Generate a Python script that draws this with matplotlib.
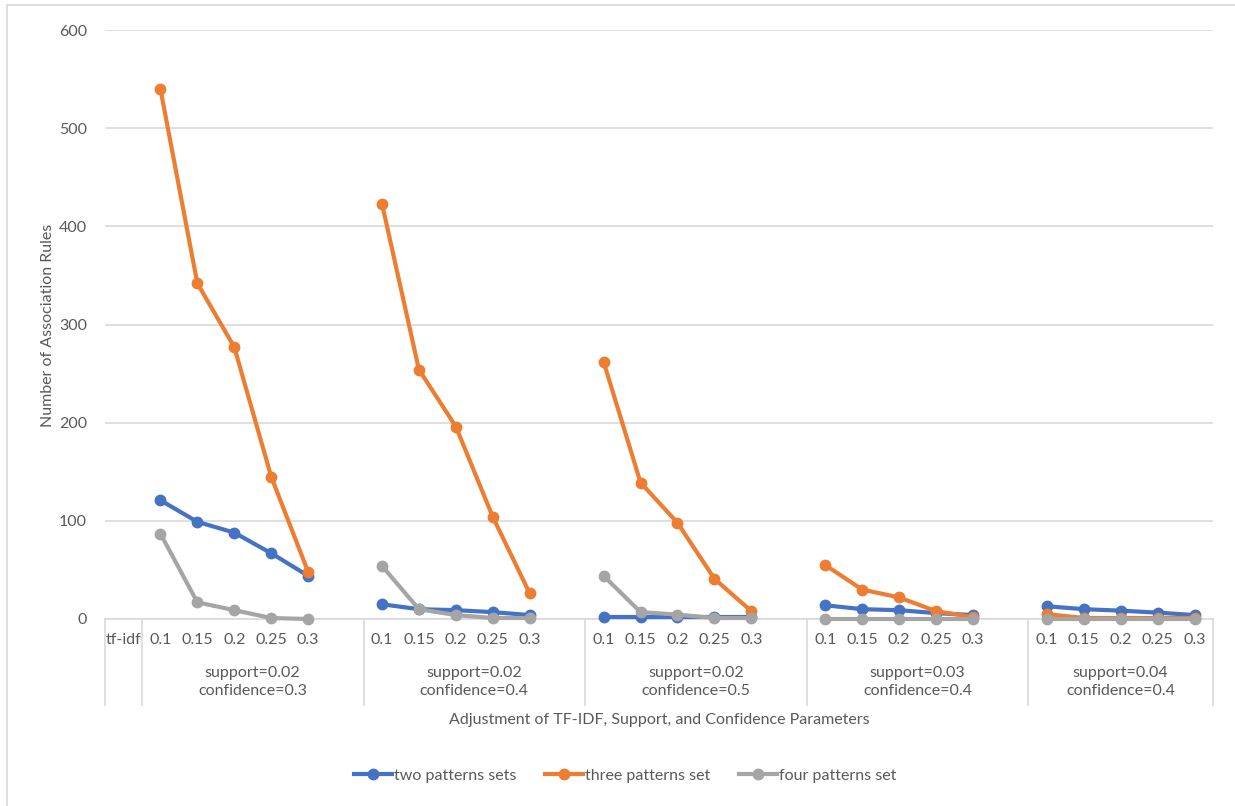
import matplotlib
matplotlib.use("Agg")
import matplotlib.pyplot as plt
from matplotlib.lines import Line2D

# ---- data ----
tfidf_labels = ["0.1", "0.15", "0.2", "0.25", "0.3"]
group_labels = ["support=0.02\nconfidence=0.3", "support=0.02\nconfidence=0.4",
                "support=0.02\nconfidence=0.5", "support=0.03\nconfidence=0.4",
                "support=0.04\nconfidence=0.4"]
two_patterns = [[121, 99, 88, 67, 44],
                [15, 10, 9, 7, 4],
                [2, 2, 2, 2, 2],
                [14, 10, 9, 6, 4],
                [13, 10, 8.5, 6.5, 4]]
three_patterns = [[540, 342, 277, 145, 48],
                  [423, 254, 196, 104, 26],
                  [262, 139, 98, 41, 8],
                  [55, 30, 22, 8, 2],
                  [5, 1, 1, 1, 1]]
four_patterns = [[87, 17, 9, 1, 0],
                 [54, 10, 4, 1, 1],
                 [44, 7, 4.5, 1, 1],
                 [0, 0, 0, 0, 0],
                 [0, 0, 0, 0, 0]]
series_names = ["two patterns sets", "three patterns set", "four patterns set"]
colors = ["#4472C4", "#ED7D31", "#A5A5A5"]

W, H = 1235, 806
fig = plt.figure(figsize=(W / 100, H / 100), dpi=100)
plt.rcParams['font.family'] = ['Lato', 'DejaVu Sans']
txt = "#595959"
fs = 11.5

x0, x1, ytop, ybot = 105, 1213, 30, 619
ax = fig.add_axes([x0 / W, 1 - ybot / H, (x1 - x0) / W, (ybot - ytop) / H])

ngroups = len(group_labels)
n = len(tfidf_labels)
def pos(g, i):
    return 1 + 6 * g + i

all_series = [two_patterns, three_patterns, four_patterns]
for s, data in enumerate(all_series):
    for g in range(ngroups):
        xs = [pos(g, i) for i in range(n)]
        ax.plot(xs, data[g], color=colors[s], lw=3, marker='o', ms=7.5,
                solid_capstyle='round', zorder=3 + s, clip_on=False)

ax.set_xlim(-0.5, 29.5)
ax.set_ylim(0, 600)
ax.set_yticks(range(0, 601, 100))
ax.tick_params(axis='y', length=0, labelsize=fs, labelcolor=txt, pad=13)
ax.set_xticks([])
for sp in ["top", "right", "left"]:
    ax.spines[sp].set_visible(False)
ax.spines["bottom"].set_color("#D9D9D9")
ax.spines["bottom"].set_linewidth(1.2)
ax.grid(axis='y', color="#D9D9D9", lw=1.2)
ax.set_axisbelow(True)
fig.text(48 / W, 1 - 325 / H, "Number of Association Rules", rotation=90,
         ha='center', va='center', fontsize=fs, color=txt)

tr = ax.get_xaxis_transform()
ph = ybot - ytop
def yf(py):
    return (ybot - py) / ph

# group separator positions (data coords)
seps = [-0.5, 0.5] + [0.5 + 6 * g for g in range(1, ngroups)] + [29.5]

# category labels
ax.text(0, yf(640), "tf-idf", transform=tr, ha='center', va='center', fontsize=fs, color=txt)
for g in range(ngroups):
    for i, lab in enumerate(tfidf_labels):
        ax.text(pos(g, i), yf(640), lab, transform=tr, ha='center', va='center',
                fontsize=fs, color=txt)
    center = (seps[g + 1] + seps[g + 2]) / 2
    ax.text(center, yf(682), group_labels[g], transform=tr, ha='center', va='center',
            fontsize=fs, color=txt, linespacing=1.3)

for sx in seps:
    ax.add_line(Line2D([sx, sx], [0, yf(705)], transform=tr, color="#D9D9D9",
                       lw=1.2, clip_on=False))

fig.text(659 / W, 1 - 720 / H, "Adjustment of TF-IDF, Support, and Confidence Parameters",
         ha='center', va='center', fontsize=fs, color=txt)

handles = [Line2D([], [], color=c, lw=3, marker='o', ms=7.5) for c in colors]
leg = fig.legend(handles, series_names, loc='center', bbox_to_anchor=(625 / W, 1 - 776 / H),
                 ncol=3, frameon=False, fontsize=fs, handlelength=2.4, handletextpad=0.1,
                 columnspacing=1.8)
for t in leg.get_texts():
    t.set_color(txt)

# chart border (top and left visible)
fig.add_artist(Line2D([7 / W, 7 / W], [0, 1 - 5 / H], transform=fig.transFigure,
                      color="#D9D9D9", lw=1.2))
fig.add_artist(Line2D([7 / W, 1], [1 - 5 / H, 1 - 5 / H], transform=fig.transFigure,
                      color="#D9D9D9", lw=1.2))

fig.savefig("out.png", dpi=100)
